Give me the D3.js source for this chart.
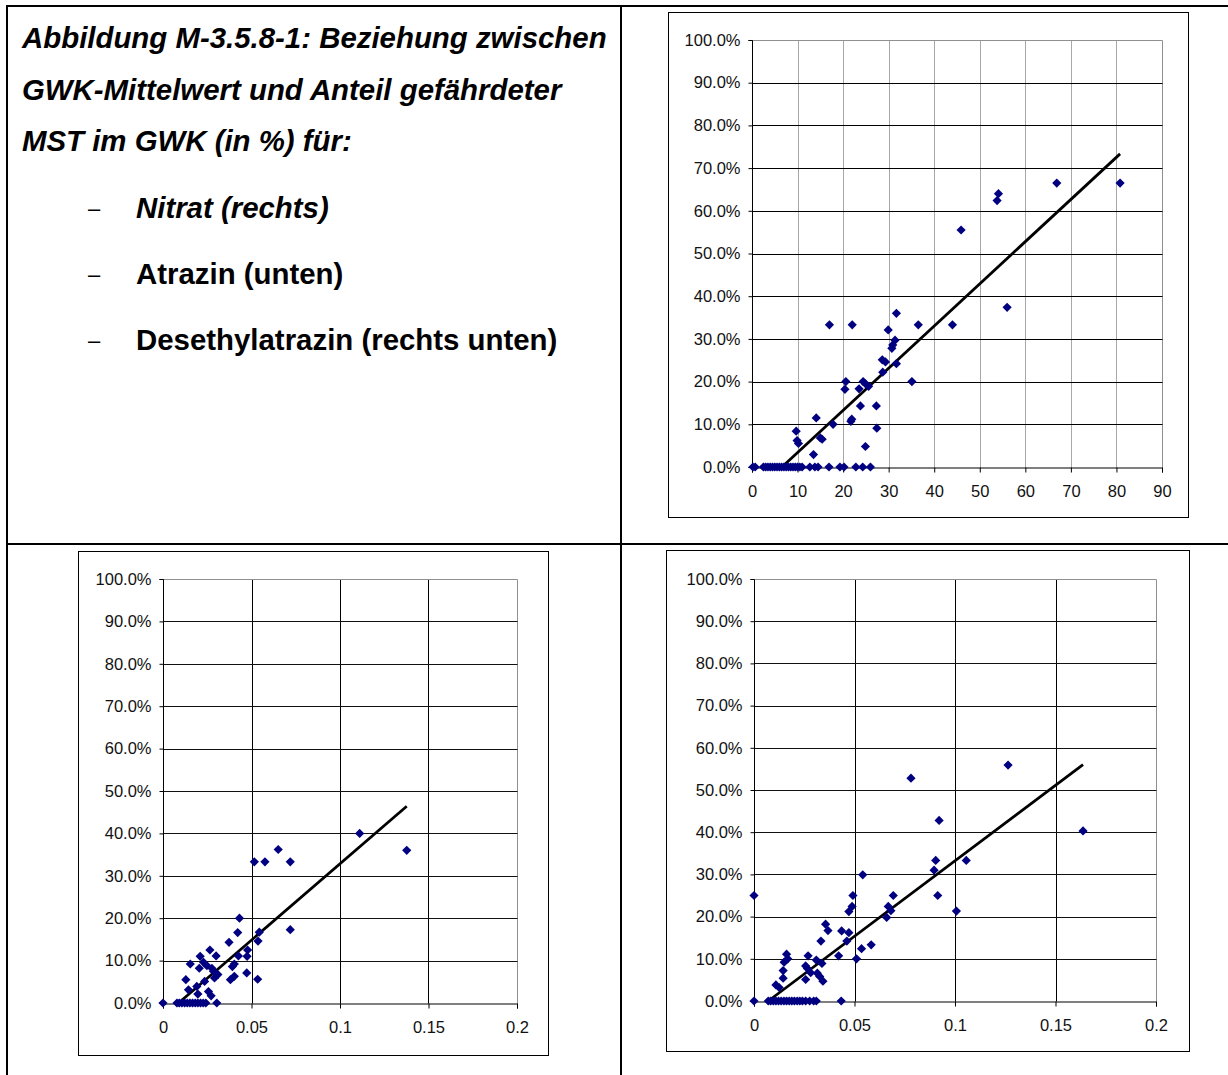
<!DOCTYPE html>
<html><head><meta charset="utf-8">
<script src="https://cdn.jsdelivr.net/npm/d3@7"></script>
<style>
body{margin:0;background:#fff;}
svg{display:block;}
</style></head><body>
<svg id="c" width="1228" height="1075"></svg>
<script>
// ---------------- DATA ----------------
const titleLines = ["Abbildung M-3.5.8-1: Beziehung zwischen", "GWK-Mittelwert und Anteil gefährdeter", "MST im GWK (in %) für:"];
const bulletItems = ["Nitrat (rechts)", "Atrazin (unten)", "Desethylatrazin (rechts unten)"];
const bulletItalic = [true, false, false];

const pctTicks = [0, 10, 20, 30, 40, 50, 60, 70, 80, 90, 100];
const nitratXTicks = [0, 10, 20, 30, 40, 50, 60, 70, 80, 90];
const atrazinXTicks = [0, 0.05, 0.1, 0.15, 0.2];
const desethylXTicks = [0, 0.05, 0.1, 0.15, 0.2];

// Nitrat: GWK mean (mg/l) vs share of endangered monitoring sites (%)
const nitratX = [0.2, 0.7, 2.5, 3.0, 3.5, 4.0, 4.5, 5.0, 5.5, 6.0, 6.5, 7.0, 7.5, 8.0, 8.5, 9.0, 9.5, 10.0, 10.5, 11.0, 12.7, 13.8, 14.5, 16.9, 19.3, 20.2, 22.8, 24.3, 26.0,
  9.7, 9.9, 10.2, 13.5, 14.1, 15.0, 15.4, 17.0, 17.8, 20.6, 20.4, 21.7, 21.9, 22.0, 23.5, 23.8, 24.4, 24.9, 24.9, 25.6, 27.3, 27.4, 28.6, 28.7, 29.3, 29.9, 30.7, 30.9, 31.4, 31.7, 31.7, 35.1, 36.5, 44.0, 45.9, 53.8, 54.1, 56.0, 66.9, 80.8];
const nitratY = [0, 0, 0, 0, 0, 0, 0, 0, 0, 0, 0, 0, 0, 0, 0, 0, 0, 0, 0, 0, 0, 0, 0, 0, 0, 0, 0, 0, 0,
  8.4, 6.2, 5.5, 2.9, 11.5, 6.8, 6.5, 33.3, 10.0, 20.0, 18.2, 10.7, 11.2, 33.3, 18.3, 14.3, 20.0, 4.8, 19.5, 18.9, 14.3, 9.1, 25.1, 22.2, 24.6, 32.1, 27.8, 28.6, 29.7, 24.2, 36.0, 20.0, 33.3, 33.3, 55.5, 62.4, 64.0, 37.4, 66.5, 66.5];
const nitratTrend = [0.988, -6.5]; // slope, intercept

// Atrazin
const atrazinX = [0, 0.0079, 0.0092, 0.0107, 0.0122, 0.0137, 0.0152, 0.0167, 0.0182, 0.0197, 0.0212, 0.0227, 0.0242, 0.0304,
  0.0129, 0.0144, 0.0154, 0.0191, 0.0197, 0.0205, 0.0210, 0.0229, 0.0235, 0.0248, 0.0257, 0.0265, 0.0272, 0.0276, 0.0285, 0.0291, 0.0300, 0.0310,
  0.0373, 0.0381, 0.0392, 0.0403, 0.0403, 0.0422, 0.0426, 0.0432, 0.0473, 0.0475, 0.0478, 0.0516, 0.0535, 0.0537, 0.0544, 0.0576, 0.0651, 0.0719, 0.0719, 0.1111, 0.1377];
const atrazinY = [0, 0, 0, 0, 0, 0, 0, 0, 0, 0, 0, 0, 0, 0,
  5.5, 3.1, 9.2, 3.9, 2.1, 8.2, 11.0, 9.6, 5.1, 8.8, 2.7, 12.5, 1.7, 8.2, 7.5, 5.9, 11.1, 6.7,
  14.3, 5.5, 8.6, 6.3, 9.2, 16.6, 11.1, 20.0, 7.1, 11.0, 12.5, 33.3, 5.6, 14.6, 16.7, 33.3, 36.2, 33.3, 17.3, 40.0, 36.0];
const atrazinTrend = [360, -3.17];

// Desethylatrazin
const desethylX = [0, 0, 0.0071, 0.0083, 0.0096, 0.0109, 0.0122, 0.0135, 0.0149, 0.0162, 0.0175, 0.0188, 0.0201, 0.0215, 0.0228, 0.0241, 0.0257, 0.0277, 0.0297, 0.0310, 0.0434,
  0.0109, 0.0125, 0.0145, 0.0145, 0.0150, 0.0162, 0.0168, 0.0257, 0.0257, 0.0266, 0.0269, 0.0282, 0.0310, 0.0315, 0.0327, 0.0338, 0.0343, 0.0333, 0.0356, 0.0368,
  0.0421, 0.0436, 0.0462, 0.0472, 0.0472, 0.0488, 0.0492, 0.0510, 0.0535, 0.0541, 0.0583, 0.0660, 0.0668, 0.0681, 0.0693, 0.0781, 0.0896, 0.0904, 0.0914, 0.0921, 0.1007, 0.1056, 0.1264, 0.1637];
const desethylY = [0, 25.0, 0, 0, 0, 0, 0, 0, 0, 0, 0, 0, 0, 0, 0, 0, 0, 0, 0, 0, 0,
  3.8, 3.2, 5.4, 7.2, 9.2, 11.1, 10.0, 5.1, 8.3, 7.7, 10.7, 6.7, 9.7, 6.6, 5.8, 8.9, 4.7, 14.2, 18.2, 16.7,
  10.7, 16.6, 14.2, 16.2, 21.2, 22.4, 25.0, 10.0, 12.4, 29.9, 13.3, 19.8, 22.4, 21.4, 25.0, 52.8, 31.0, 33.3, 25.0, 42.8, 21.3, 33.3, 55.9, 40.3];
const desethylTrend = [357.7, -2.54];

// ---------------- LAYOUT ----------------
const svg = d3.select("#c");
const FONT = "'Liberation Sans', Arial, Helvetica, sans-serif";

// table lines
const tableLines = [
  [7, 5, 7, 1075], [6, 6, 1228, 6], [621, 6, 621, 1075], [6, 544, 1228, 544]
];
svg.append("g").selectAll("line").data(tableLines).join("line")
  .attr("x1", d => d[0]).attr("y1", d => d[1]).attr("x2", d => d[2]).attr("y2", d => d[3])
  .attr("stroke", "#000").attr("stroke-width", 2);

// title text
const tg = svg.append("g").attr("font-family", FONT).attr("font-weight", "bold").attr("font-size", 29.4).attr("fill", "#000");
tg.selectAll("text.t").data(titleLines).join("text").attr("class", "t")
  .attr("x", 22).attr("y", (d, i) => 48 + i * 51.5).attr("font-style", "italic").text(d => d);
tg.selectAll("text.dash").data(bulletItems).join("text").attr("class", "dash")
  .attr("x", 88).attr("y", (d, i) => 216 + i * 66).attr("font-weight", "normal").attr("font-size", 22).text("–");
tg.selectAll("text.b").data(bulletItems).join("text").attr("class", "b")
  .attr("x", 136).attr("y", (d, i) => 218 + i * 66)
  .attr("font-style", (d, i) => bulletItalic[i] ? "italic" : "normal").text(d => d);

const panels = [
  { box: [668, 12, 1188, 517], plot: [752, 40, 1162, 467], xd: [0, 90], xt: nitratXTicks, xs: nitratX, ys: nitratY, tr: nitratTrend, vgrid: "#a8a8a8", hgrid: "#000" },
  { box: [78, 551, 548, 1055], plot: [163, 579, 517, 1003], xd: [0, 0.2], xt: atrazinXTicks, xs: atrazinX, ys: atrazinY, tr: atrazinTrend, vgrid: "#000", hgrid: "#111" },
  { box: [666, 550, 1189, 1051], plot: [754, 579, 1156, 1001], xd: [0, 0.2], xt: desethylXTicks, xs: desethylX, ys: desethylY, tr: desethylTrend, vgrid: "#000", hgrid: "#111" }
];

panels.forEach(p => {
  const g = svg.append("g");
  g.append("rect").attr("x", p.box[0] + 0.5).attr("y", p.box[1] + 0.5)
    .attr("width", p.box[2] - p.box[0]).attr("height", p.box[3] - p.box[1])
    .attr("fill", "#fff").attr("stroke", "#000").attr("stroke-width", 1);
  const x = d3.scaleLinear().domain(p.xd).range([p.plot[0], p.plot[2]]);
  const y = d3.scaleLinear().domain([0, 100]).range([p.plot[3], p.plot[1]]);
  const cx = v => Math.round(x(v)) + 0.5, cy = v => Math.round(y(v)) + 0.5;
  // gridlines
  g.append("g").selectAll("line").data(p.xt.slice(1)).join("line")
    .attr("x1", d => cx(d)).attr("x2", d => cx(d)).attr("y1", cy(100)).attr("y2", cy(0))
    .attr("stroke", (d, i) => i === p.xt.length - 2 ? "#909090" : p.vgrid).attr("stroke-width", 1);
  g.append("g").selectAll("line").data(pctTicks.slice(1)).join("line")
    .attr("x1", cx(p.xd[0])).attr("x2", cx(p.xd[1])).attr("y1", d => cy(d)).attr("y2", d => cy(d))
    .attr("stroke", d => d === 100 ? "#909090" : p.hgrid).attr("stroke-width", 1);
  // axes
  const ya = d3.axisLeft(y).tickValues(pctTicks).tickSize(4).tickPadding(8).tickFormat(d => d.toFixed(1) + "%");
  const xa = d3.axisBottom(x).tickValues(p.xt).tickSize(5).tickPadding(13).tickFormat(d => String(d));
  const yg = g.append("g").attr("transform", `translate(${cx(p.xd[0])},0)`).call(ya);
  const xg = g.append("g").attr("transform", `translate(0,${cy(0)})`).call(xa);
  [yg, xg].forEach(a => {
    a.selectAll("path.domain").attr("stroke", "#000").attr("stroke-width", 1);
    a.selectAll(".tick line").attr("stroke", "#000");
    a.selectAll("text").attr("font-family", FONT).attr("font-size", 16.5).attr("fill", "#111");
  });
  yg.selectAll("path.domain").attr("d", `M-4,${cy(100)}H0V${cy(0)}H-4`);
  // trend line (Excel-style linear trendline across data range, clipped at 0%)
  const [m, b] = p.tr;
  const x0 = Math.max(d3.min(p.xs), -b / m), x1 = d3.max(p.xs);
  g.append("line").attr("x1", x(x0)).attr("y1", y(m * x0 + b)).attr("x2", x(x1)).attr("y2", y(m * x1 + b))
    .attr("stroke", "#000").attr("stroke-width", 2.8);
  // diamonds
  const r = 4.6;
  g.append("g").selectAll("path").data(p.xs.map((v, i) => [v, p.ys[i]])).join("path")
    .attr("d", d => { const px = x(d[0]), py = y(d[1]); return `M${px},${py - r}L${px + r},${py}L${px},${py + r}L${px - r},${py}Z`; })
    .attr("fill", "#000080");
});
</script>
</body></html>
